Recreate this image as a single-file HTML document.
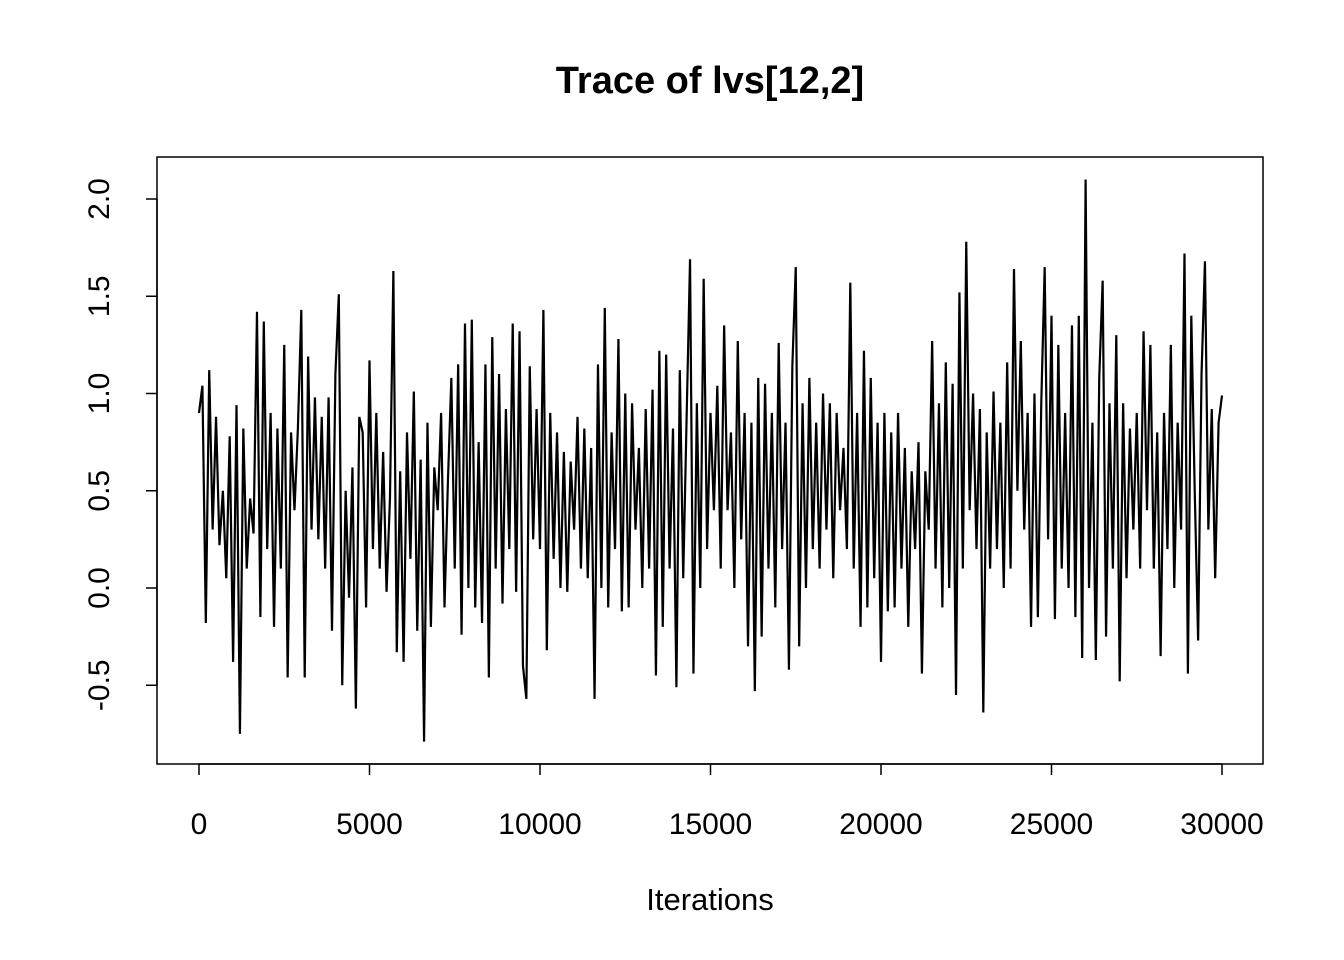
<!DOCTYPE html>
<html><head><meta charset="utf-8"><style>
body{margin:0;background:#fff}
svg{display:block;font-family:"Liberation Sans",sans-serif}
</style></head><body>
<svg id="chart" width="1344" height="960">
<rect x="0" y="0" width="1344" height="960" fill="#fff"/>
<text x="710" y="93" text-anchor="middle" font-size="38" font-weight="bold">Trace of lvs[12,2]</text>
<text x="710" y="910" text-anchor="middle" font-size="31">Iterations</text>
<rect x="157" y="157" width="1106" height="607" fill="none" stroke="#000" stroke-width="1.5"/>
<g id="xaxis"></g>
<g id="yaxis"></g>
<path id="trace" fill="none" stroke="#000" stroke-width="2.2" stroke-linejoin="miter"/>
</svg>
<script>
const xTicks = [0, 5000, 10000, 15000, 20000, 25000, 30000];
const yTicks = [-0.5, 0.0, 0.5, 1.0, 1.5, 2.0];
const yTickLabels = ["-0.5", "0.0", "0.5", "1.0", "1.5", "2.0"];
const iterStep = 100;
const values = [
0.90,1.04,-0.18,1.12,0.30,0.88,0.22,0.50,0.05,0.78,-0.38,0.94,-0.75,0.82,0.10,0.46,0.28,1.42,-0.15,1.37,
0.20,0.90,-0.20,0.82,0.10,1.25,-0.46,0.80,0.40,0.82,1.43,-0.46,1.19,0.30,0.98,0.25,0.88,0.10,0.98,-0.22,
1.10,1.51,-0.50,0.50,-0.05,0.62,-0.62,0.88,0.80,-0.10,1.17,0.20,0.90,0.10,0.70,-0.02,0.46,1.63,-0.33,0.60,
-0.38,0.80,0.15,1.01,-0.22,0.66,-0.79,0.85,-0.20,0.62,0.40,0.90,-0.10,0.55,1.08,0.10,1.15,-0.24,1.36,0.00,
1.38,-0.10,0.75,-0.18,1.15,-0.46,1.29,0.10,1.10,-0.08,0.92,0.20,1.36,-0.02,1.32,-0.40,-0.57,1.14,0.25,0.92,
0.20,1.43,-0.32,0.90,0.15,0.80,0.00,0.70,-0.02,0.65,0.30,0.88,0.10,0.82,0.05,0.72,-0.57,1.15,0.00,1.44,
-0.10,0.80,0.20,1.28,-0.12,1.00,-0.10,0.95,0.30,0.72,0.00,0.92,0.10,1.02,-0.45,1.22,-0.20,1.20,0.10,0.82,
-0.51,1.12,0.05,0.88,1.69,-0.44,0.95,0.00,1.59,0.20,0.90,0.40,1.04,0.10,1.35,0.40,0.80,0.00,1.27,0.25,
0.90,-0.30,0.85,-0.53,1.08,-0.25,1.05,0.10,0.90,-0.10,1.26,0.20,0.85,-0.42,1.14,1.65,-0.30,0.95,0.00,1.08,
0.20,0.85,0.10,1.00,0.30,0.95,0.05,0.90,0.40,0.72,0.20,1.57,0.10,0.90,-0.20,1.22,-0.10,1.08,0.05,0.85,
-0.38,0.90,-0.12,0.80,-0.10,0.90,0.10,0.72,-0.20,0.60,0.20,0.75,-0.44,0.60,0.30,1.27,0.10,0.95,-0.10,1.16,
0.00,1.05,-0.55,1.52,0.10,1.78,0.40,1.00,0.20,0.92,-0.64,0.80,0.10,1.01,0.20,0.85,0.00,1.16,0.10,1.64,
0.50,1.27,0.30,0.90,-0.20,1.00,-0.15,0.95,1.65,0.25,1.40,-0.16,1.25,0.10,0.90,0.00,1.35,-0.15,1.40,-0.36,
2.10,0.00,0.85,-0.37,1.08,1.58,-0.25,0.95,0.10,1.30,-0.48,0.95,0.05,0.82,0.30,0.90,0.10,1.32,0.40,1.25,
0.10,0.80,-0.35,0.90,0.20,1.25,0.00,0.85,0.30,1.72,-0.44,1.40,0.50,-0.27,1.10,1.68,0.30,0.92,0.05,0.85,
0.99
];
const NS = "http://www.w3.org/2000/svg";
function xScale(v){ return 199 + (v - 0) / 30000 * 1023; }
function yScale(v){ return 588 - v * 194.5; }
const xg = document.getElementById('xaxis');
const yg = document.getElementById('yaxis');
const axX = document.createElementNS(NS, 'line');


axX.setAttribute('x1', xScale(xTicks[0])); axX.setAttribute('x2', xScale(xTicks[xTicks.length-1]));
axX.setAttribute('y1', 764); axX.setAttribute('y2', 764); axX.setAttribute('stroke', '#000'); axX.setAttribute('stroke-width', '1.5');
xg.appendChild(axX);
xTicks.forEach(t => {
  const x = xScale(t);
  const l = document.createElementNS(NS, 'line');
  
  
  l.setAttribute('x1', x); l.setAttribute('x2', x); l.setAttribute('y1', 764); l.setAttribute('y2', 775);
  l.setAttribute('stroke', '#000'); l.setAttribute('stroke-width', '1.5');
  xg.appendChild(l);
  const tx = document.createElementNS(NS, 'text');
  
  
  tx.setAttribute('x', x); tx.setAttribute('y', 834); tx.setAttribute('text-anchor', 'middle'); tx.setAttribute('font-size', '30');
  tx.textContent = String(t);
  xg.appendChild(tx);
});
const axY = document.createElementNS(NS, 'line');


axY.setAttribute('x1', 157); axY.setAttribute('x2', 157);
axY.setAttribute('y1', yScale(yTicks[0])); axY.setAttribute('y2', yScale(yTicks[yTicks.length-1]));
axY.setAttribute('stroke', '#000'); axY.setAttribute('stroke-width', '1.5');
yg.appendChild(axY);
yTicks.forEach((t, i) => {
  const y = yScale(t);
  const l = document.createElementNS(NS, 'line');
  
  
  l.setAttribute('x1', 146); l.setAttribute('x2', 157); l.setAttribute('y1', y); l.setAttribute('y2', y);
  l.setAttribute('stroke', '#000'); l.setAttribute('stroke-width', '1.5');
  yg.appendChild(l);
  const tx = document.createElementNS(NS, 'text');
  
  
  tx.setAttribute('x', 0); tx.setAttribute('y', 0); tx.setAttribute('text-anchor', 'middle'); tx.setAttribute('font-size', '30');
  tx.setAttribute('transform', 'translate(109,' + y + ') rotate(-90)');
  tx.textContent = yTickLabels[i];
  yg.appendChild(tx);
});
let d = '';
values.forEach((v, i) => {
  d += (i ? 'L' : 'M') + xScale(i * iterStep).toFixed(2) + ' ' + yScale(v).toFixed(2);
});
document.getElementById('trace').setAttribute('d', d);
</script>
</body></html>
